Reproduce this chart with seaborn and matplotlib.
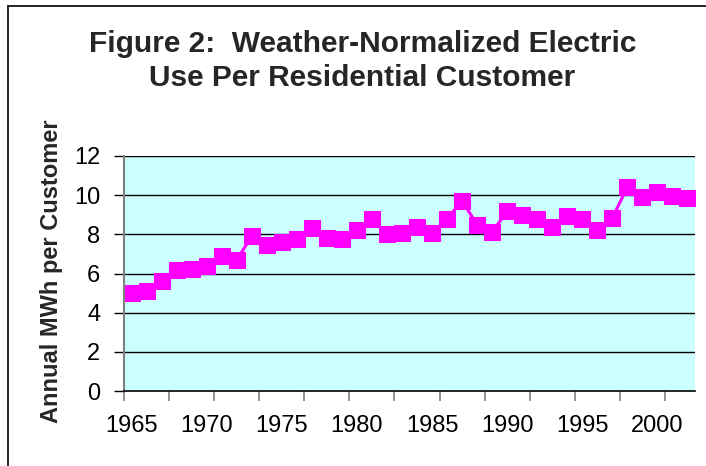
import matplotlib
matplotlib.use("Agg")
import matplotlib.pyplot as plt
from matplotlib.lines import Line2D
from matplotlib.ticker import FixedLocator, NullFormatter
import pandas as pd
import seaborn as sns

#
# data
#

years = list(range(1965, 2003))
mwh_per_customer = [
    5.0, 5.1, 5.6, 6.2, 6.25, 6.4, 6.9, 6.7, 7.9, 7.45,
    7.6, 7.75, 8.3, 7.8, 7.75, 8.2, 8.8, 8.0, 8.05, 8.4,
    8.05, 8.8, 9.7, 8.5, 8.1, 9.2, 9.0, 8.8, 8.35, 8.95,
    8.8, 8.2, 8.85, 10.4, 9.9, 10.15, 9.95, 9.85,
]
label_years = [1965, 1970, 1975, 1980, 1985, 1990, 1995, 2000]
yticks = [0, 2, 4, 6, 8, 10, 12]

df = pd.DataFrame({"year": years, "use": mwh_per_customer})

#
# style
#

sns.set_theme(style="ticks")
plt.rcParams["font.family"] = ["Liberation Sans", "DejaVu Sans"]

W, H = 706, 466
fig = plt.figure(figsize=(W / 100, H / 100), dpi=100)
fig.patch.set_facecolor("white")

# plot area in pixels: x 124..695, y 156..391
ax = fig.add_axes([124 / W, 1 - 391 / H, (695 - 124) / W, (391 - 156) / H])
ax.set_facecolor("#CCFFFF")

sns.lineplot(data=df, x="year", y="use", ax=ax, color="#FF00FF",
             linewidth=2.2, marker="s", markersize=11.5,
             markeredgecolor="#FF00FF", markerfacecolor="#FF00FF")

# horizontal gridlines
for v in yticks[1:]:
    ax.axhline(v, color="black", linewidth=1.0, zorder=1)

ax.set_xlim(1964.5, 2002.5)
ax.set_ylim(0, 12)
ax.set_yticks(yticks)

# tick marks every 3 categories, labels every 5
ax.xaxis.set_major_locator(FixedLocator([1964.5 + 3 * k for k in range(13)]))
ax.xaxis.set_major_formatter(NullFormatter())
ax.xaxis.set_minor_locator(FixedLocator(label_years))
ax.set_xticklabels([str(y) for y in label_years], minor=True)
ax.tick_params(axis="x", which="major", length=7, width=1.2, color="#808080",
               direction="out")
ax.tick_params(axis="x", which="minor", length=0, pad=17, labelsize=17,
               labelcolor="black")
ax.tick_params(axis="y", length=7, width=1.0, color="black", direction="out",
               pad=10, labelsize=17, labelcolor="black")

ax.set_xlabel("")
ax.set_ylabel("")

for side in ["top", "right"]:
    ax.spines[side].set_visible(False)
ax.spines["left"].set_color("#808080")
ax.spines["left"].set_linewidth(1.5)
ax.spines["bottom"].set_color("black")
ax.spines["bottom"].set_linewidth(1.2)
ax.spines["bottom"].set_zorder(3)

# titles
fig.text(363 / W, 1 - 51.5 / H, "Figure 2:  Weather-Normalized Electric",
         ha="center", va="baseline", fontsize=21.5, fontweight="bold")
fig.text(362 / W, 1 - 86 / H, "Use Per Residential Customer",
         ha="center", va="baseline", fontsize=21.5, fontweight="bold")
fig.text(52 / W, 1 - 271 / H, "Annual MWh per Customer", rotation=90,
         ha="center", va="center", fontsize=17, fontweight="bold")

# chart border (only left and top edges are in frame)
fig.add_artist(Line2D([8 / W, 8 / W], [0, 1 - 6 / H], transform=fig.transFigure,
                      color="black", linewidth=1.2))
fig.add_artist(Line2D([8 / W, 1], [1 - 6 / H, 1 - 6 / H], transform=fig.transFigure,
                      color="black", linewidth=1.2))

fig.savefig("out.png", dpi=100)
